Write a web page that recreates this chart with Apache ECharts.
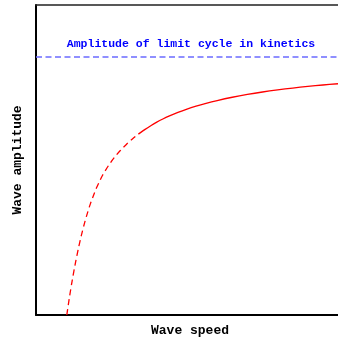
<!DOCTYPE html>
<html>
<head>
<meta charset="utf-8">
<script src="https://cdn.jsdelivr.net/npm/echarts@6/dist/echarts.min.js"></script>
<style>
  html, body { margin: 0; padding: 0; background: #fff; }
  #chart { width: 338px; height: 343px; }
</style>
</head>
<body>
<div id="chart"></div>
<script>
// wave speed (x) and amplitude (y), axis range 0..100
const unstableBranch = [
  [10.2, 0], [10.4, 1.3], [11, 5.25], [12, 11.2], [13, 16.5], [14, 21.3],
  [15, 25.6], [16, 29.4], [17, 32.8], [18, 35.85], [19, 38.5], [20, 40.95],
  [21, 43.05], [22, 45], [24, 48.2], [26, 50.9], [28, 53.15], [30, 55.1],
  [32, 56.85], [33.9, 58.35]
];
const stableBranch = [
  [33.9, 58.35], [36, 59.8], [38, 61.06], [40, 62.2], [42, 63.22], [44, 64.14],
  [47, 65.37], [50, 66.44], [53, 67.37], [56, 68.2], [60, 69.18], [65, 70.24],
  [70, 71.15], [75, 71.94], [80, 72.62], [85, 73.21], [90, 73.73], [95, 74.19],
  [100, 74.59]
];
const kineticsAmplitude = 83.2;
const kineticsLabel = "Amplitude of limit cycle in kinetics";

const font = "'Liberation Mono', 'DejaVu Sans Mono', monospace";
const chart = echarts.init(document.getElementById("chart"));

const options = {
  animation: false,
  grid: { left: 36, top: 5, right: 0, bottom: 28 },
  xAxis: [
    {
      type: "value",
      min: 0,
      max: 100,
      name: "Wave speed",
      nameLocation: "middle",
      nameGap: 9,
      nameTextStyle: { color: "#000", fontFamily: font, fontWeight: "bold", fontSize: 13, padding: [0, 0, 0, 6] },
      axisLine: { lineStyle: { color: "#000", width: 2 } },
      axisTick: { show: false },
      axisLabel: { show: false },
      splitLine: { show: false },
    },
    {
      type: "value",
      position: "top",
      min: 0,
      max: 100,
      axisLine: { lineStyle: { color: "#222", width: 1.5 } },
      axisTick: { show: false },
      axisLabel: { show: false },
      splitLine: { show: false },
    },
  ],
  yAxis: {
    type: "value",
    min: 0,
    max: 100,
    name: "Wave amplitude",
    nameLocation: "middle",
    nameGap: 12,
    nameTextStyle: { color: "#000", fontFamily: font, fontWeight: "bold", fontSize: 13 },
    axisLine: { lineStyle: { color: "#000", width: 2 } },
    axisTick: { show: false },
    axisLabel: { show: false },
    splitLine: { show: false },
  },
  series: [
    {
      type: "line",
      data: [[0, kineticsAmplitude], [100, kineticsAmplitude]],
      showSymbol: false,
      lineStyle: { color: "#6b6bff", width: 1.5, type: [6, 3.5] },
    },
    {
      type: "line",
      data: unstableBranch,
      smooth: 0.3,
      showSymbol: false,
      lineStyle: { color: "#ff0000", width: 1.3, type: [6, 4] },
    },
    {
      type: "line",
      data: stableBranch,
      smooth: 0.3,
      showSymbol: false,
      lineStyle: { color: "#ff0000", width: 1.3 },
    },
  ],
  graphic: [
    {
      type: "text",
      x: 191,
      y: 44,
      style: {
        text: kineticsLabel,
        fill: "#0000ff",
        font: "bold 11.5px " + font,
        align: "center",
        verticalAlign: "middle",
      },
    },
  ],
};
chart.setOption(options);
</script>
</body>
</html>
